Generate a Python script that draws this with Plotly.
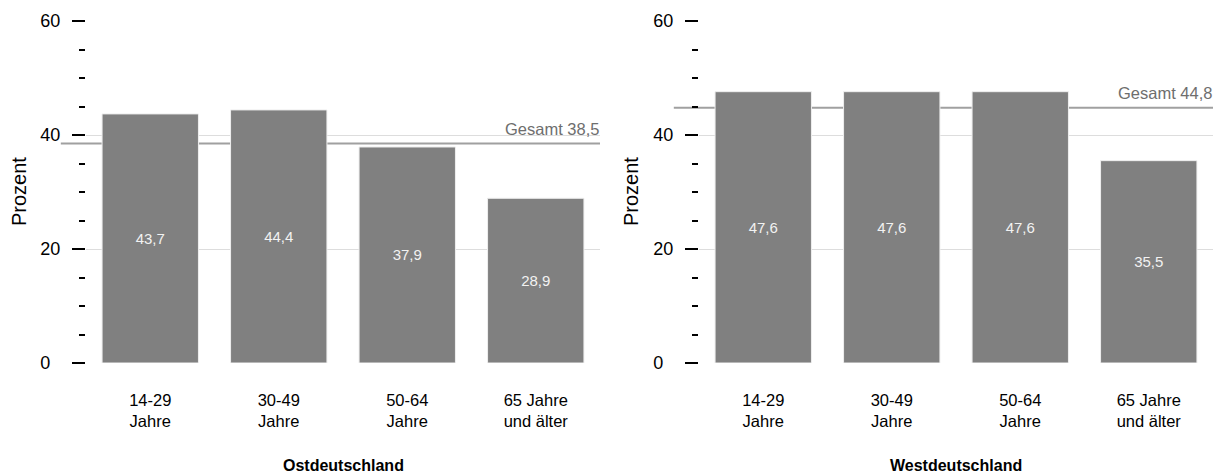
import plotly.graph_objects as go

categories = ["14-29<br>Jahre", "30-49<br>Jahre", "50-64<br>Jahre", "65 Jahre<br>und älter"]
ost_values = [43.7, 44.4, 37.9, 28.9]
west_values = [47.6, 47.6, 47.6, 35.5]
ost_total = 38.5
west_total = 44.8
panel_titles = ["Ostdeutschland", "Westdeutschland"]
y_tick_vals = [0, 20, 40, 60]
y_tick_text = ["0\u2007", "20", "40", "60"]

W, H = 1218, 475
FONT = "Liberation Sans, Arial, sans-serif"
BAR_COLOR = "#808080"

def px_x(p):
    return p / W

def px_y(p):
    return (H - p) / H

x1_dom = [px_x(86), px_x(600)]
x2_dom = [px_x(699), px_x(1213)]
y_dom = [px_y(363), px_y(21)]

fig = go.Figure()
for vals, xa, ya in [(ost_values, "x", "y"), (west_values, "x2", "y2")]:
    fig.add_trace(go.Bar(
        x=categories, y=vals, xaxis=xa, yaxis=ya,
        marker=dict(color=BAR_COLOR, line=dict(color="#eeeeee", width=1)),
        width=0.75,
        texttemplate="%{y:.1f}", textposition="inside", insidetextanchor="middle",
        textfont=dict(color="#f2f2f2", size=15, family=FONT),
        hoverinfo="skip", showlegend=False,
    ))

yaxis_common = dict(
    range=[0, 60], domain=y_dom, tickvals=y_tick_vals, ticktext=y_tick_text,
    ticks="outside", ticklen=13, tickwidth=2, tickcolor="#000000",
    ticklabelstandoff=8,
    showgrid=True, gridcolor="#dddddd", gridwidth=1,
    zeroline=False, showline=False,
    tickfont=dict(size=18, color="#000000", family=FONT),
    minor=dict(dtick=5, ticks="outside", ticklen=6, tickwidth=2, tickcolor="#000000", showgrid=False),
    automargin=False, fixedrange=True,
)
xaxis_common = dict(
    type="category", range=[-0.5, 3.5],
    ticks="outside", ticklen=22, tickcolor="rgba(0,0,0,0)",
    showgrid=False, zeroline=False, showline=False,
    tickfont=dict(size=16.5, color="#000000", family=FONT),
    automargin=False, fixedrange=True,
)

fig.update_layout(
    width=W, height=H,
    margin=dict(l=0, r=0, t=0, b=0),
    paper_bgcolor="white", plot_bgcolor="white",
    template="none",
    separators=",.",
    font=dict(family=FONT, color="#000000"),
    xaxis=dict(domain=x1_dom, anchor="y", **xaxis_common),
    yaxis=dict(anchor="x", **yaxis_common),
    xaxis2=dict(domain=x2_dom, anchor="y2", **xaxis_common),
    yaxis2=dict(anchor="x2", **yaxis_common),
)

shapes = []
annotations = []
for total, xa, ya, xdom, title, ylab_x in [
    (ost_total, "x", "y", x1_dom, panel_titles[0], 19),
    (west_total, "x2", "y2", x2_dom, panel_titles[1], 631),
]:
    shapes.append(dict(
        type="line", xref=f"{xa} domain", yref=ya,
        x0=-0.049, x1=1, y0=total, y1=total,
        line=dict(color="#a0a0a0", width=2), layer="below",
    ))
    annotations.append(dict(
        xref=f"{xa} domain", yref=ya, x=1, y=total,
        text="Gesamt " + f"{total:.1f}".replace(".", ","),
        showarrow=False, xanchor="right", yanchor="bottom", yshift=4, xshift=1,
        font=dict(size=16.5, color="#6e6e6e", family=FONT),
    ))
    annotations.append(dict(
        xref="paper", yref="paper", x=(xdom[0] + xdom[1]) / 2, y=px_y(465),
        text=f"<b>{title}</b>", showarrow=False, xanchor="center", yanchor="middle",
        font=dict(size=16, color="#000000", family=FONT),
    ))
    annotations.append(dict(
        xref="paper", yref="paper", x=px_x(ylab_x), y=px_y(192),
        text="Prozent", textangle=-90, showarrow=False,
        xanchor="center", yanchor="middle",
        font=dict(size=20, color="#000000", family=FONT),
    ))

fig.update_layout(shapes=shapes, annotations=annotations)
fig.write_html(
    "out.html",
    config={"displayModeBar": False},
    post_script="document.body.style.margin='0';document.body.style.overflow='hidden';",
)
